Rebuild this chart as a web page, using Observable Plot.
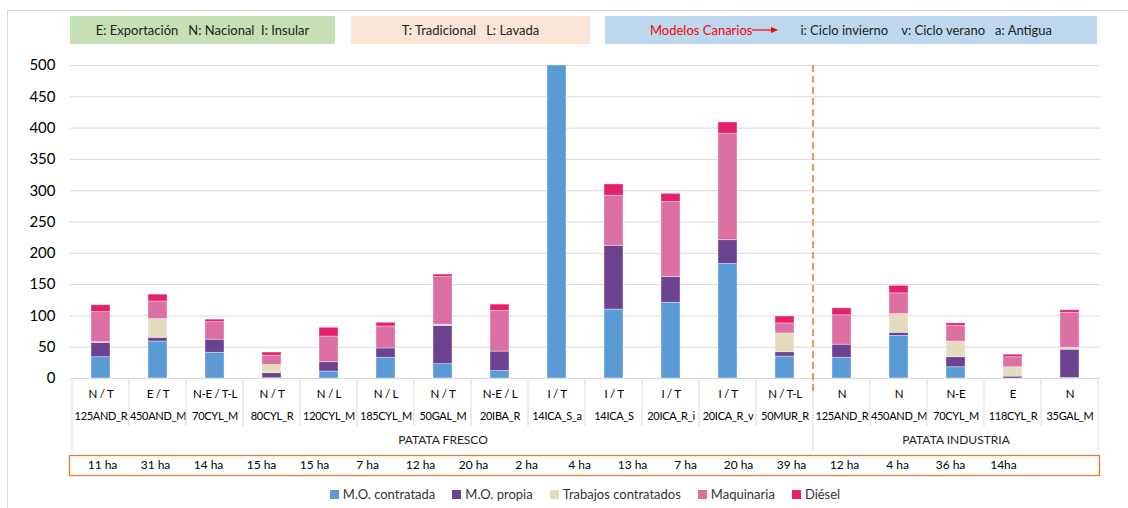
<!DOCTYPE html>
<html>
<head>
<meta charset="utf-8">
<script src="https://cdn.jsdelivr.net/npm/d3@7"></script>
<script src="https://cdn.jsdelivr.net/npm/@observablehq/plot@0.6"></script>
<style>
  html, body { margin: 0; padding: 0; background: #fff; }
  body { width: 1128px; height: 508px; position: relative; overflow: hidden; font-family: Lato, "Noto Sans", sans-serif; }
  #frame { position: absolute; left: 7px; top: 10px; width: 1200px; height: 600px; border-left: 1px solid #d9d9d9; border-top: 1px solid #d9d9d9; }
  .box { position: absolute; top: 16px; height: 28px; display: flex; align-items: center; justify-content: center; font-size: 13px; color: #222; white-space: pre; }
  #main { position: absolute; left: 0; top: 50px; }
  #main g[aria-label="x-axis tick label"] text { letter-spacing: -0.3px; }
  #ha { position: absolute; left: 0; top: 453px; }
  #legend { position: absolute; left: 70px; width: 1030px; top: 486px; display: flex; justify-content: center; gap: 17px; font-size: 13px; color: #333; }
  #legend .item { display: flex; align-items: center; gap: 4px; }
  #legend .sw { width: 9px; height: 9px; display: inline-block; }
  svg { overflow: visible; }
</style>
</head>
<body>
<div id="frame"></div>
<div class="box" style="left:70px;width:265px;background:#c5e0b4;">E: Exportación   N: Nacional  I: Insular</div>
<div class="box" style="left:351px;width:239px;background:#fbe5d6;">T: Tradicional   L: Lavada</div>
<div class="box" style="left:605px;width:492px;background:#bdd7ee;"><span style="color:#ff0000">Modelos Canarios</span><svg width="26" height="8" style="margin:0 2px 0 0"><line x1="0" y1="4" x2="20" y2="4" stroke="#ff0000" stroke-width="1.2"/><polygon points="19,1 26,4 19,7" fill="#ff0000"/></svg>      i: Ciclo invierno    v: Ciclo verano   a: Antigua</div>
<div id="main"></div>
<div id="ha"></div>
<div id="legend"></div>
<script>
// ---- data ----
const categories = ["125AND_R","450AND_M","70CYL_M","80CYL_R","120CYL_M","185CYL_M","50GAL_M","20IBA_R","14ICA_S_a","14ICA_S","20ICA_R_i","20ICA_R_v","50MUR_R","125AND_R","450AND_M","70CYL_M","118CYL_R","35GAL_M"];
const codes = ["N / T","E / T","N-E / T-L","N / T","N / L","N / L","N / T","N-E / L","I / T","I / T","I / T","I / T","N / T-L","N","N","N-E","E","N"];
const groups = ["PATATA FRESCO","PATATA FRESCO","PATATA FRESCO","PATATA FRESCO","PATATA FRESCO","PATATA FRESCO","PATATA FRESCO","PATATA FRESCO","PATATA FRESCO","PATATA FRESCO","PATATA FRESCO","PATATA FRESCO","PATATA FRESCO","PATATA INDUSTRIA","PATATA INDUSTRIA","PATATA INDUSTRIA","PATATA INDUSTRIA","PATATA INDUSTRIA"];
const haLabels = ["11 ha","31 ha","14 ha","15 ha","15 ha","7 ha","12 ha","20 ha","2 ha","4 ha","13 ha","7 ha","20 ha","39 ha","12 ha","4 ha","36 ha","14ha"];

const seriesNames = ["M.O. contratada","M.O. propia","Trabajos contratados","Maquinaria","Diésel"];
const seriesColors = ["#5b9bd5","#6c4391","#e5dbbf","#dd70a3","#e6206a"];
const moContratada = [34, 59, 41, 0.5, 11, 33, 23, 12, 500, 110, 121, 183, 35, 33, 68, 18, 0, 1];
const moPropia     = [23, 6, 21, 8, 15, 15, 61, 31, 0, 102, 41, 38, 7, 21, 5, 16, 3, 45];
const trabajos     = [1, 30, 0, 13, 0, 0, 2, 0, 0, 0, 0, 0, 30, 0, 30, 25, 15, 3];
const maquinaria   = [48, 28, 28, 15, 41, 35, 76, 65, 0, 80, 120, 170, 16, 47, 33, 25, 16, 56];
const diesel       = [11, 11, 4, 5, 14, 6, 4, 10, 0, 18, 13, 18, 11, 11, 12, 4, 4, 4];
const yTicks = [0, 50, 100, 150, 200, 250, 300, 350, 400, 450, 500];

// ---- build table ----
const seriesValues = [moContratada, moPropia, trabajos, maquinaria, diesel];
const keys = categories.map((c, i) => i);
const rows = [];
keys.forEach(i => seriesNames.forEach((s, j) => rows.push({key: i, series: s, value: seriesValues[j][i]})));

const PI = 0.67;
const groupMid = [{key: 6, label: groups[0]}, {key: 15, label: groups[13]}];

function separators(index, scales, values, dimensions) {
  const x = scales.x;
  const step = x(keys[1]) - x(keys[0]);
  const bw = typeof x.bandwidth === "function" ? x.bandwidth() : step * (1 - PI);
  const fb = dimensions.height - dimensions.marginBottom;
  const g = d3.create("svg:g");
  const boundary = k => (k < keys.length ? x(keys[k]) + bw / 2 - step / 2 : x(keys[keys.length - 1]) + bw / 2 + step / 2);
  for (let k = 0; k <= keys.length; k++) {
    const gb = k === 0 || k === keys.length || groups[k] !== groups[k - 1];
    g.append("line").attr("x1", boundary(k)).attr("x2", boundary(k))
      .attr("y1", fb).attr("y2", fb + (gb ? 72 : 48))
      .attr("stroke", "#d9d9d9").attr("stroke-width", 1);
  }
  const split = groups.findIndex(d => d !== groups[0]);
  g.append("line").attr("x1", boundary(split)).attr("x2", boundary(split))
    .attr("y1", dimensions.marginTop).attr("y2", fb + 15)
    .attr("stroke", "#ed7d31").attr("stroke-width", 1.6).attr("stroke-dasharray", "7,4");
  return g.node();
}

const main = Plot.plot({
  width: 1128,
  height: 405,
  marginLeft: 70,
  marginRight: 28,
  marginTop: 15,
  marginBottom: 77,
  style: {fontFamily: "Lato, 'Noto Sans', sans-serif", color: "#000", background: "transparent"},
  x: {type: "band", domain: keys, paddingInner: PI, paddingOuter: PI / 2},
  y: {domain: [0, 500]},
  color: {domain: seriesNames, range: seriesColors},
  marks: [
    Plot.gridY({ticks: yTicks, stroke: "#d9d9d9", strokeOpacity: 1, strokeWidth: 1}),
    Plot.axisY({ticks: yTicks, tickSize: 0, tickPadding: 15, fontSize: 15, label: null, tickFormat: d => d}),
    Plot.barY(rows, {x: "key", y: "value", fill: "series", stroke: "#ffffff", strokeOpacity: 0.45, strokeWidth: 0.8}),
    Plot.axisX({tickSize: 0, tickPadding: 11, fontSize: 11.5, label: null, tickFormat: i => codes[i]}),
    Plot.axisX({tickSize: 0, tickPadding: 34, fontSize: 11, label: null, tickFormat: i => categories[i]}),
    Plot.text(groupMid, {x: "key", text: "label", frameAnchor: "bottom", dy: 65, fontSize: 12, fill: "#222"}),
    separators
  ]
});
document.getElementById("main").appendChild(main);

const ha = Plot.plot({
  width: 1128,
  height: 24,
  marginLeft: 69,
  marginRight: 29,
  marginTop: 2,
  marginBottom: 2,
  style: {fontFamily: "Lato, 'Noto Sans', sans-serif", color: "#000", background: "transparent"},
  x: {type: "point", domain: haLabels.map((d, i) => i), range: [97, 1007], padding: 0, axis: null},
  marks: [
    Plot.frame({stroke: "#e07b39", strokeWidth: 1.3}),
    Plot.text(haLabels.map((d, i) => ({i, d})), {x: "i", text: "d", frameAnchor: "middle", fontSize: 12, fill: "#000"})
  ]
});
document.getElementById("ha").appendChild(ha);

const legend = document.getElementById("legend");
seriesNames.forEach((s, j) => {
  const it = document.createElement("div");
  it.className = "item";
  it.innerHTML = `<span class="sw" style="background:${seriesColors[j]}"></span><span>${s}</span>`;
  legend.appendChild(it);
});
</script>
</body>
</html>
